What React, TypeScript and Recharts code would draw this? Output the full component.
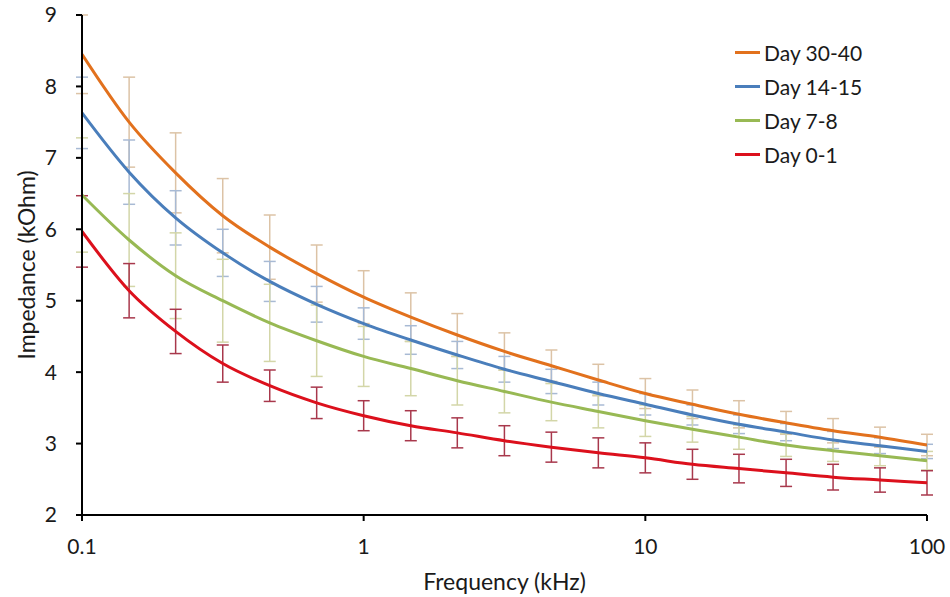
import React from 'react';
import { LineChart, Line, XAxis, YAxis, ErrorBar } from 'recharts';

const frequencies = [0.1, 0.147, 0.215, 0.316, 0.464, 0.681, 1, 1.47, 2.15, 3.16, 4.64, 6.81, 10, 14.7, 21.5, 31.6, 46.4, 68.1, 100];

const day30_40 = [8.45, 7.5, 6.79, 6.19, 5.75, 5.38, 5.05, 4.77, 4.52, 4.29, 4.09, 3.89, 3.7, 3.55, 3.41, 3.29, 3.18, 3.09, 2.98];
const day14_15 = [7.63, 6.8, 6.16, 5.67, 5.27, 4.95, 4.68, 4.45, 4.24, 4.04, 3.87, 3.7, 3.55, 3.4, 3.27, 3.16, 3.05, 2.97, 2.89];
const day7_8 = [6.48, 5.85, 5.35, 5.0, 4.69, 4.44, 4.22, 4.05, 3.88, 3.73, 3.58, 3.45, 3.32, 3.2, 3.09, 2.98, 2.9, 2.83, 2.76];
const day0_1 = [5.97, 5.14, 4.57, 4.12, 3.81, 3.57, 3.39, 3.25, 3.15, 3.04, 2.95, 2.87, 2.8, 2.71, 2.65, 2.59, 2.53, 2.49, 2.45];

const err30_40 = [0.55, 0.63, 0.56, 0.52, 0.45, 0.4, 0.37, 0.34, 0.3, 0.26, 0.22, 0.22, 0.21, 0.2, 0.19, 0.16, 0.17, 0.14, 0.15];
const err14_15 = [0.5, 0.45, 0.38, 0.33, 0.28, 0.25, 0.22, 0.2, 0.19, 0.18, 0.17, 0.16, 0.15, 0.14, 0.13, 0.12, 0.12, 0.11, 0.1];
const err7_8 = [0.8, 0.65, 0.6, 0.58, 0.54, 0.5, 0.42, 0.38, 0.34, 0.3, 0.26, 0.23, 0.22, 0.18, 0.17, 0.16, 0.15, 0.14, 0.13];
const err0_1 = [0.5, 0.38, 0.31, 0.26, 0.22, 0.22, 0.21, 0.21, 0.21, 0.21, 0.21, 0.21, 0.21, 0.21, 0.2, 0.19, 0.18, 0.17, 0.17];

const xTicks = [0.1, 1, 10, 100];
const yTicks = [2, 3, 4, 5, 6, 7, 8, 9];

const series = [
  { key: 'd30', err: 'e30', name: 'Day 30-40', color: '#E2711D', errColor: '#DCC3A6' },
  { key: 'd14', err: 'e14', name: 'Day 14-15', color: '#4A7EBB', errColor: '#A8BAD4' },
  { key: 'd7', err: 'e7', name: 'Day 7-8', color: '#98B954', errColor: '#D3D6A8' },
  { key: 'd0', err: 'e0', name: 'Day 0-1', color: '#DC101C', errColor: '#A8384C' },
];

const data = frequencies.map((f, i) => ({
  f,
  d30: day30_40[i], e30: err30_40[i],
  d14: day14_15[i], e14: err14_15[i],
  d7: day7_8[i], e7: err7_8[i],
  d0: day0_1[i], e0: err0_1[i],
}));

const FONT = 'Lato, "Open Sans", sans-serif';
const TEXT = '#1a1a1a';

export default function App() {
  return (
    <div style={{ position: 'absolute', left: 0, top: 0, width: 950, height: 597, background: '#fff' }}>
      <LineChart width={950} height={597} data={data} margin={{ top: 15, right: 23, bottom: 0, left: 0 }}>
        <XAxis
          dataKey="f"
          type="number"
          scale="log"
          domain={[0.1, 100]}
          allowDataOverflow
          ticks={xTicks}
          tickFormatter={(v: number) => String(v)}
          height={82}
          tickSize={6}
          tickMargin={18}
          stroke="#000"
          strokeWidth={2}
          tick={{ fill: TEXT, fontSize: 21, fontFamily: FONT }}
          label={{ value: 'Frequency (kHz)', position: 'insideBottom', offset: 7, style: { fill: TEXT, fontSize: 23, fontFamily: FONT } }}
        />
        <YAxis
          type="number"
          domain={[2, 9]}
          ticks={yTicks}
          width={82}
          tickSize={6}
          tickMargin={19}
          stroke="#000"
          strokeWidth={2}
          tick={{ fill: TEXT, fontSize: 21, fontFamily: FONT }}
          label={{ value: 'Impedance (kOhm)', angle: -90, position: 'insideLeft', offset: 27, style: { textAnchor: 'middle', fill: TEXT, fontSize: 23, fontFamily: FONT } }}
        />
        {series.map((s) => (
          <Line
            key={'eb-' + s.key}
            dataKey={s.key}
            stroke="none"
            dot={false}
            activeDot={false}
            isAnimationActive={false}
            legendType="none"
          >
            <ErrorBar dataKey={s.err} direction="y" width={6} stroke={s.errColor} strokeWidth={1.5} />
          </Line>
        ))}
        {series.map((s) => (
          <Line
            key={s.key}
            type="monotone"
            dataKey={s.key}
            name={s.name}
            stroke={s.color}
            strokeWidth={3}
            dot={false}
            activeDot={false}
            isAnimationActive={false}
          />
        ))}
      </LineChart>
      <div style={{ position: 'absolute', left: 735, top: 35, fontFamily: FONT, fontSize: 21, color: TEXT }}>
        {series.map((s) => (
          <div key={s.key} style={{ display: 'flex', alignItems: 'center', height: 34 }}>
            <div style={{ width: 25, height: 3, background: s.color, marginRight: 4 }} />
            <span>{s.name}</span>
          </div>
        ))}
      </div>
    </div>
  );
}
